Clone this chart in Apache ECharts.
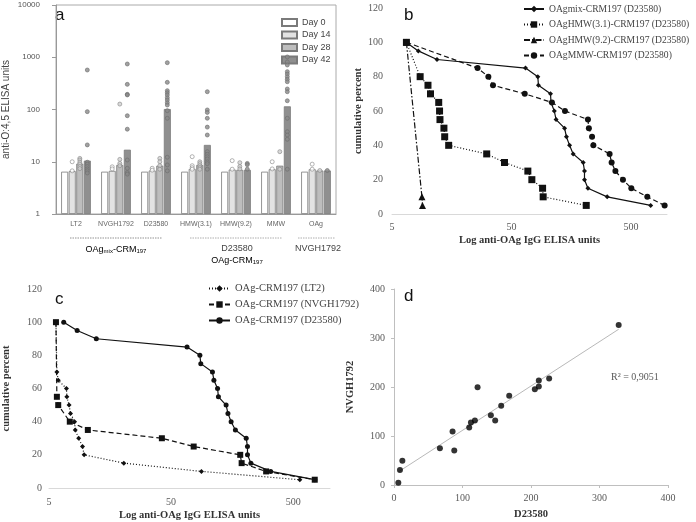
<!DOCTYPE html>
<html>
<head>
<meta charset="utf-8">
<script src="https://cdn.jsdelivr.net/npm/echarts@6/dist/echarts.min.js"></script>
<style>
  html, body { margin: 0; padding: 0; background: #fff; }
  #main { width: 696px; height: 522px; }
</style>
</head>
<body>
<div id="main"></div>
<script>
// ---------- panel a : bars + individual points ----------
var groups = ['LT2', 'NVGH1792', 'D23580', 'HMW(3.1)', 'HMW(9.2)', 'MMW', 'OAg'];
var day0 = [6.45, 6.45, 6.45, 6.45, 6.45, 6.45, 6.45];
var day14 = [6.65, 6.7, 6.8, 7.3, 7.1, 7.2, 7.2];
var day28 = [9.2, 8.7, 8.4, 8.7, 7.0, 8.4, 6.8];
var day42 = [10.5, 17, 102, 21, 7.0, 115, 6.8];

var dots14 = [[10, 6.7], [8.0, 7.3], [7.5, 6.9], [12.5, 8.4, 7.7, 7.2], [10.5, 7.2], [10, 7.3], [9, 7.2]];
var dots28 = [[11.6, 10.8, 9.8, 9.0, 8.1, 7.4], [127, 11.1, 9.3, 8.4], [11.6, 10, 8.4, 7.2],
  [10, 9.2, 8.4, 7.7, 7.2], [9.6, 8.1, 7.3], [15.6, 7.2], [6.8]];
var dots42 = [[570, 91, 21, 9.8, 9.0, 8.1, 7.3, 6.7, 6.1],
  [743, 303, 195, 190, 76, 42, 10.8, 7.5, 6.2, 5.8],
  [787, 331, 229, 210, 190, 168, 152, 135, 122, 95, 68, 12.2, 8.7, 6.7],
  [219, 98, 88, 68, 46, 32.5, 15.6, 13.9, 12.5, 11.3, 10, 9.2, 7.2],
  [9.3, 8.8, 7.2],
  [1013, 814, 711, 530, 478, 424, 378, 340, 247, 219, 147, 68, 37.6, 32.5, 26.9, 7.2],
  [6.8]];
var logTicksA = [1, 10, 100, 1000, 10000];

// ---------- panel b : cumulative percent, D23580 conjugates ----------
var pct = [100, 95, 90, 85, 80, 75, 70, 65, 60, 55, 50, 45, 40, 35, 30, 25, 20, 15, 10, 5];
var bMix = [6.55, 8.3, 11.9, 65.5, 83, 84, 106, 107, 114, 118, 139, 144, 153, 164, 199, 204, 204, 218, 316, 730];
var bHmw31Pct = [100, 80, 75, 70, 65, 60, 55, 50, 45, 40, 35, 30, 25, 20, 15, 10, 5];
var bHmw31 = [6.6, 8.6, 10, 10.5, 12.3, 12.5, 12.6, 13.6, 13.8, 14.9, 31, 43.7, 68.5, 74, 91, 92, 211];
var bHmw92Pct = [100, 10, 5];
var bHmw92 = [6.6, 8.9, 9.0];
var bMmwPct = [100, 85, 80, 75, 70, 65, 60, 55, 50, 45, 40, 35, 30, 25, 20, 15, 10, 5];
var bMmw = [6.6, 26, 32, 35, 64.5, 109, 140, 218, 222, 236, 242, 331, 344, 370, 428, 503, 684, 955];

// ---------- panel c : OAg-CRM197 from three strains ----------
var cLt2Pct = [100, 70, 65, 60, 55, 50, 45, 40, 35, 30, 25, 20, 15, 10, 5];
var cLt2 = [5.7, 5.8, 5.95, 6.95, 7.0, 7.3, 7.5, 8.1, 8.2, 8.75, 9.4, 9.7, 20.5, 88.6, 566];
var cNvghPct = [100, 55, 50, 40, 35, 30, 25, 20, 15, 10, 5];
var cNvgh = [5.7, 5.8, 5.95, 7.4, 10.4, 42, 76.5, 184, 189, 300, 750];
var cD23 = [6.6, 8.5, 12.2, 67.5, 86, 87.5, 109, 112, 120, 122, 141, 146, 155, 168, 206, 211, 211, 225, 327, 750];
var logTicksBC = [5, 50, 500];

// ---------- panel d : correlation ----------
var dX = [6.3, 8.7, 12.2, 67, 85.5, 88, 109.8, 112.3, 118.1, 122, 141.4, 147.7, 156.5, 168.2, 205.6, 211.4, 211.4, 226.5, 328];
var dY = [4.8, 30.7, 49.7, 75, 109, 70.2, 117.2, 127.4, 131.5, 199.7, 142.4, 131.5, 161.5, 181.9, 195.6, 201, 213.3, 217.4, 326.4];

function zip(xs, ys) {
  var out = [];
  for (var i = 0; i < xs.length; i++) out.push([xs[i], ys[i]]);
  return out;
}
function toPts(arr) {
  var out = [];
  arr.forEach(function (vals, i) {
    vals.forEach(function (v) { out.push([i, v]); });
  });
  return out;
}
// least squares for the trend line of d
function linFit(xs, ys) {
  var n = xs.length, sx = 0, sy = 0, sxx = 0, sxy = 0;
  for (var i = 0; i < n; i++) { sx += xs[i]; sy += ys[i]; sxx += xs[i] * xs[i]; sxy += xs[i] * ys[i]; }
  var b = (n * sxy - sx * sy) / (n * sxx - sx * sx);
  var a = (sy - b * sx) / n;
  return [a, b];
}
var fit = linFit(dX, dY);
var x0 = Math.min.apply(null, dX), x1 = Math.max.apply(null, dX);
var trend = [[x0, fit[0] + fit[1] * x0], [x1, fit[0] + fit[1] * x1]];

var SANS = 'Liberation Sans, Arial, sans-serif';
var SERIF = 'Liberation Serif, Times New Roman, serif';
var LBL = { fontFamily: SERIF, fontSize: 10, color: '#595959' };
var plain = function (v) { return String(v); };  // no thousands separator

var myChart = echarts.init(document.getElementById('main'), null, { renderer: 'canvas' });

function barS(name, data, color) {
  return {
    name: name, type: 'bar', xAxisIndex: 0, yAxisIndex: 0, data: data,
    barWidth: 7, barGap: '8%',
    itemStyle: { color: color, borderColor: '#7a7a7a', borderWidth: 0.8 },
    silent: true
  };
}
function dotS(data, fill, stroke, off) {
  return {
    type: 'scatter', xAxisIndex: 0, yAxisIndex: 0, data: toPts(data),
    symbol: 'circle', symbolSize: 4, symbolOffset: [off, 0], z: 5,
    itemStyle: { color: fill, borderColor: stroke, borderWidth: 0.8 }
  };
}
function lineS(name, xi, yi, data, dash, sym, size) {
  return {
    name: name, type: 'line', xAxisIndex: xi, yAxisIndex: yi, data: data,
    symbol: sym, symbolSize: size, showSymbol: true,
    lineStyle: { color: '#111', width: 1.2, type: dash },
    itemStyle: { color: '#111' },
    animation: false
  };
}

var subRich = {
  b: { fontFamily: SANS, fontSize: 9, color: '#444', lineHeight: 11 },
  s: { fontFamily: SANS, fontSize: 6, color: '#444', lineHeight: 11, padding: [3, 0, 0, 0] }
};

var option = {
  animation: false,
  backgroundColor: '#fff',
  grid: [
    { left: 54, top: 5, width: 282, height: 209, show: true, borderColor: '#aaa', borderWidth: 1 },
    { left: 392, top: 8, width: 275, height: 206 },
    { left: 47, top: 289, width: 283, height: 200 },
    { left: 394, top: 289, width: 274, height: 196 }
  ],
  legend: [
    {
      data: ['Day 0', 'Day 14', 'Day 28', 'Day 42'], orient: 'vertical', left: 276, top: 13,
      itemWidth: 15, itemHeight: 7, itemGap: 3.5, icon: 'rect',
      textStyle: { fontFamily: SANS, fontSize: 9, color: '#444' }, selectedMode: false
    },
    {
      data: ['OAgmix-CRM197 (D23580)', 'OAgHMW(3.1)-CRM197 (D23580)', 'OAgHMW(9.2)-CRM197 (D23580)', 'OAgMMW-CRM197 (D23580)'],
      orient: 'vertical', left: 518, top: -1, itemWidth: 20, itemHeight: 8, itemGap: 5.5,
      textStyle: { fontFamily: SERIF, fontSize: 9.6, color: '#444' }, selectedMode: false
    },
    {
      data: ['OAg-CRM197 (LT2)', 'OAg-CRM197 (NVGH1792)', 'OAg-CRM197 (D23580)'],
      orient: 'vertical', left: 203, top: 278, itemWidth: 21, itemHeight: 8, itemGap: 5,
      textStyle: { fontFamily: SERIF, fontSize: 10.5, color: '#444' }, selectedMode: false
    }
  ],
  xAxis: [
    {
      gridIndex: 0, type: 'category', data: groups,
      axisLine: { lineStyle: { color: '#999' } },
      axisTick: { alignWithLabel: true, length: 3, lineStyle: { color: '#999' } },
      axisLabel: { interval: 0, fontFamily: SANS, fontSize: 7, color: '#666', margin: 7 }
    },
    {
      gridIndex: 1, type: 'log', logBase: 10, min: 5, max: 1000,
      name: 'Log anti-OAg IgG ELISA units', nameLocation: 'middle', nameGap: 21,
      nameTextStyle: { fontFamily: SERIF, fontSize: 10.5, fontWeight: 'bold', color: '#333' },
      axisLine: { lineStyle: { color: '#d9d9d9' } }, axisTick: { show: false },
      axisLabel: Object.assign({ customValues: logTicksBC, margin: 8, formatter: plain }, LBL),
      splitLine: { show: false }
    },
    {
      gridIndex: 2, type: 'log', logBase: 10, min: 5, max: 1000,
      name: 'Log anti-OAg IgG ELISA units', nameLocation: 'middle', nameGap: 22,
      nameTextStyle: { fontFamily: SERIF, fontSize: 10.5, fontWeight: 'bold', color: '#333' },
      axisLine: { lineStyle: { color: '#d9d9d9' } }, axisTick: { show: false },
      axisLabel: Object.assign({ customValues: logTicksBC, margin: 9, formatter: plain }, LBL),
      splitLine: { show: false }
    },
    {
      gridIndex: 3, type: 'value', min: 0, max: 400, interval: 100,
      name: 'D23580', nameLocation: 'middle', nameGap: 24,
      nameTextStyle: { fontFamily: SERIF, fontSize: 10.5, fontWeight: 'bold', color: '#333' },
      axisLine: { lineStyle: { color: '#bfbfbf' } },
      axisTick: { show: true, length: 3, lineStyle: { color: '#bfbfbf' } },
      axisLabel: Object.assign({ margin: 8 }, LBL),
      splitLine: { show: false }
    }
  ],
  yAxis: [
    {
      gridIndex: 0, type: 'log', logBase: 10, min: 1, max: 10000,
      name: 'anti-O:4,5 ELISA units', nameLocation: 'middle', nameGap: 45,
      nameTextStyle: { fontFamily: SANS, fontSize: 10, color: '#444' },
      axisLine: { show: true, lineStyle: { color: '#999' } },
      axisTick: { show: true, length: 4, customValues: logTicksA, lineStyle: { color: '#999' } },
      axisLabel: { customValues: logTicksA, formatter: plain, fontFamily: SANS, fontSize: 8, color: '#555', margin: 16 },
      splitLine: { show: false }
    },
    {
      gridIndex: 1, type: 'value', min: 0, max: 120, interval: 20,
      name: 'cumulative percent', nameLocation: 'middle', nameGap: 27,
      nameTextStyle: { fontFamily: SERIF, fontSize: 10.5, fontWeight: 'bold', color: '#333' },
      axisLine: { show: false }, axisTick: { show: false },
      axisLabel: Object.assign({ margin: 9 }, LBL),
      splitLine: { show: false }
    },
    {
      gridIndex: 2, type: 'value', min: 0, max: 120, interval: 20,
      name: 'cumulative percent', nameLocation: 'middle', nameGap: 37,
      nameTextStyle: { fontFamily: SERIF, fontSize: 10.5, fontWeight: 'bold', color: '#333' },
      axisLine: { show: false }, axisTick: { show: false },
      axisLabel: Object.assign({ margin: 7 }, LBL),
      splitLine: { show: false }
    },
    {
      gridIndex: 3, type: 'value', min: 0, max: 400, interval: 100,
      name: 'NVGH1792', nameLocation: 'middle', nameGap: 38,
      nameTextStyle: { fontFamily: SERIF, fontSize: 10.5, fontWeight: 'bold', color: '#333' },
      axisLine: { show: true, lineStyle: { color: '#bfbfbf' } },
      axisTick: { show: true, length: 3, lineStyle: { color: '#bfbfbf' } },
      axisLabel: Object.assign({ margin: 9 }, LBL),
      splitLine: { show: false }
    }
  ],
  series: [
    barS('Day 0', day0, '#ffffff'),
    barS('Day 14', day14, '#e3e3e3'),
    barS('Day 28', day28, '#bdbdbd'),
    barS('Day 42', day42, '#8f8f8f'),
    dotS(dots14, '#ffffff', '#888', -3.8),
    dotS(dots28, '#d0d0d0', '#888', 3.8),
    dotS(dots42, '#8a8a8a', '#6e6e6e', 11.3),

    lineS('OAgmix-CRM197 (D23580)', 1, 1, zip(bMix, pct), 'solid', 'diamond', 5),
    lineS('OAgHMW(3.1)-CRM197 (D23580)', 1, 1, zip(bHmw31, bHmw31Pct), [1, 2], 'rect', 7),
    lineS('OAgHMW(9.2)-CRM197 (D23580)', 1, 1, zip(bHmw92, bHmw92Pct), [6, 2, 1.5, 2], 'triangle', 7),
    lineS('OAgMMW-CRM197 (D23580)', 1, 1, zip(bMmw, bMmwPct), [5, 3], 'circle', 6),

    lineS('OAg-CRM197 (LT2)', 2, 2, zip(cLt2, cLt2Pct), [1, 2], 'diamond', 5),
    lineS('OAg-CRM197 (NVGH1792)', 2, 2, zip(cNvgh, cNvghPct), [5, 3], 'rect', 6),
    lineS('OAg-CRM197 (D23580)', 2, 2, zip(cD23, pct), 'solid', 'circle', 5),

    {
      type: 'line', xAxisIndex: 3, yAxisIndex: 3, data: trend, showSymbol: false, symbol: 'none',
      lineStyle: { color: '#a6a6a6', width: 0.8 }, z: 1
    },
    {
      type: 'scatter', xAxisIndex: 3, yAxisIndex: 3, data: zip(dX, dY),
      symbol: 'circle', symbolSize: 6, itemStyle: { color: '#000' }
    }
  ],
  graphic: [
    // panel letters
    { type: 'text', left: 55, top: 7, style: { text: 'a', font: '17px ' + SANS, fill: '#111' } },
    { type: 'text', left: 404, top: 7, style: { text: 'b', font: '17px ' + SANS, fill: '#111' } },
    { type: 'text', left: 55, top: 291, style: { text: 'c', font: '17px ' + SANS, fill: '#111' } },
    { type: 'text', left: 404, top: 288, style: { text: 'd', font: '17px ' + SANS, fill: '#111' } },
    // group brackets under panel a
    { type: 'line', shape: { x1: 70, y1: 238, x2: 162, y2: 238 }, style: { stroke: '#777', lineWidth: 0.8, lineDash: [1.5, 1] } },
    { type: 'line', shape: { x1: 190, y1: 238, x2: 282, y2: 238 }, style: { stroke: '#999', lineWidth: 0.8, lineDash: [1.5, 1] } },
    { type: 'line', shape: { x1: 298, y1: 238, x2: 335, y2: 238 }, style: { stroke: '#999', lineWidth: 0.8, lineDash: [1.5, 1] } },
    {
      type: 'text', x: 116, y: 250,
      style: { text: '{b|OAg}{s|mix}{b|-CRM}{s|197}', rich: subRich, align: 'center', verticalAlign: 'middle' }
    },
    { type: 'text', x: 237, y: 249, style: { text: 'D23580', font: '9px ' + SANS, fill: '#444', align: 'center', verticalAlign: 'middle' } },
    {
      type: 'text', x: 237, y: 261,
      style: { text: '{b|OAg-CRM}{s|197}', rich: subRich, align: 'center', verticalAlign: 'middle' }
    },
    { type: 'text', x: 318, y: 249, style: { text: 'NVGH1792', font: '9px ' + SANS, fill: '#444', align: 'center', verticalAlign: 'middle' } },
    // R squared of panel d
    { type: 'text', x: 611, y: 377, style: { text: 'R² = 0,9051', font: '10px ' + SERIF, fill: '#595959', verticalAlign: 'middle' } }
  ]
};

myChart.setOption(option);
</script>
</body>
</html>
